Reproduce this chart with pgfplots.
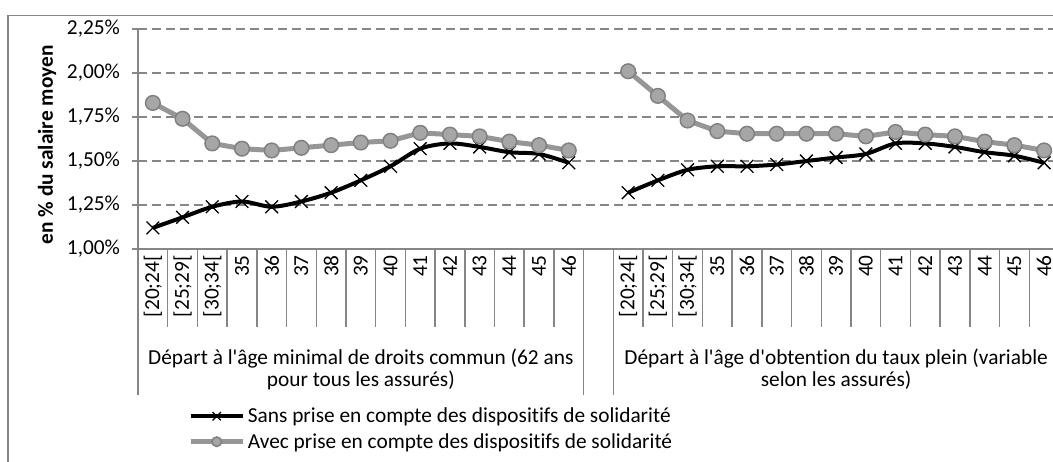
\documentclass[border=0pt]{standalone}
\usepackage{pgfplots}
\pgfplotsset{compat=1.18}
\usepackage{fontspec}
\setmainfont{Carlito}[Ligatures={TeXOff,CommonOff}]

\definecolor{axgray}{RGB}{134,134,134}
\definecolor{avecline}{RGB}{150,150,150}
\definecolor{avecfill}{RGB}{166,166,166}
\definecolor{avecedge}{RGB}{128,128,128}

\newcommand\lbl{\fontsize{16}{16.5}\selectfont}

\begin{document}
\begin{tikzpicture}
\useasboundingbox (0,0) rectangle (789.75pt,-345.75pt);
\draw[axgray, line width=1.1pt] (6pt,-350pt) -- (6pt,-11.6pt) -- (795pt,-11.6pt);
\begin{axis}[
    at={(103.5pt,-186.75pt)}, anchor=south west,
    scale only axis,
    width=686.25pt, height=165pt,
    xmin=-0.5, xmax=30.3,
    ymin=1, ymax=2.25,
    clip=false,
    axis lines*=left,
    axis line style={axgray, line width=1.1pt},
    tick align=outside,
    major tick length=4.5pt,
    ytick={1,1.25,1.5,1.75,2,2.25},
    yticklabels={{1,00\%},{1,25\%},{1,50\%},{1,75\%},{2,00\%},{2,25\%}},
    ytick style={axgray, line width=1.1pt},
    yticklabel style={font=\lbl, xshift=-5.5pt},
    ymajorgrids,
    grid style={axgray, line width=1.1pt, dash pattern=on 6.75pt off 3.75pt},
    xtick={0,1,2,3,4,5,6,7,8,9,10,11,12,13,14,16,17,18,19,20,21,22,23,24,25,26,27,28,29,30},
    xticklabels={{[20;24[},{[25;29[},{[30;34[},35,36,37,38,39,40,41,42,43,44,45,46,
                 {[20;24[},{[25;29[},{[30;34[},35,36,37,38,39,40,41,42,43,44,45,46},
    xtick style={draw=none},
    xticklabel style={rotate=90, anchor=east, inner sep=0pt, font=\lbl},
    ylabel={en \% du salaire moyen},
    ylabel style={at={(axis description cs:-0.0995,0.473)}, anchor=center, font=\lbl\bfseries},
    unbounded coords=jump,
    legend style={at={(axis description cs:0.0546,-0.818)}, anchor=west,
        draw=none, fill=none, inner sep=0pt, row sep=2.5pt,
        nodes={inner sep=2pt}, font=\lbl},
    legend cell align=left,
    legend image code/.code={\draw[mark repeat=2, mark phase=2, #1, every mark/.append style={scale=0.65}]
        plot coordinates {(0pt,0pt) (19.5pt,0pt) (39pt,0pt)};},
]
% Sans prise en compte des dispositifs de solidarite
\addplot[black, line width=3pt, smooth, tension=0.5, mark=x, mark size=6.75pt,
    mark options={solid, line width=1pt}] coordinates {
    (0,1.12) (1,1.18) (2,1.24) (3,1.27) (4,1.24) (5,1.27) (6,1.32) (7,1.39)
    (8,1.47) (9,1.57) (10,1.60) (11,1.58) (12,1.55) (13,1.54) (14,1.49)
    (15,nan)
    (16,1.32) (17,1.39) (18,1.45) (19,1.47) (20,1.47) (21,1.48) (22,1.50) (23,1.52)
    (24,1.54) (25,1.60) (26,1.60) (27,1.58) (28,1.55) (29,1.53) (30,1.49)
};
\addlegendentry{Sans prise en compte des dispositifs de solidarité}
% Avec prise en compte des dispositifs de solidarite
\addplot[avecline, line width=3.75pt, mark=*, mark size=5.5pt,
    mark options={solid, fill=avecfill, draw=avecedge, line width=1.1pt}] coordinates {
    (0,1.83) (1,1.74) (2,1.60) (3,1.57) (4,1.56) (5,1.575) (6,1.59) (7,1.605)
    (8,1.615) (9,1.66) (10,1.65) (11,1.64) (12,1.61) (13,1.59) (14,1.56)
    (15,nan)
    (16,2.01) (17,1.87) (18,1.73) (19,1.67) (20,1.655) (21,1.655) (22,1.655) (23,1.655)
    (24,1.64) (25,1.665) (26,1.65) (27,1.64) (28,1.61) (29,1.59) (30,1.56)
};
\addlegendentry{Avec prise en compte des dispositifs de solidarité}

% category separators
\pgfplotsinvokeforeach{0.5,1.5,2.5,3.5,4.5,5.5,6.5,7.5,8.5,9.5,10.5,11.5,12.5,13.5,
                       16.5,17.5,18.5,19.5,20.5,21.5,22.5,23.5,24.5,25.5,26.5,27.5,28.5,29.5}{
    \draw[axgray, line width=1.1pt] (axis cs:#1,1) -- ++(0pt,-58.5pt);
}
\pgfplotsinvokeforeach{-0.5,14.5,15.5}{
    \draw[axgray, line width=1.1pt] (axis cs:#1,1) -- ++(0pt,-109.5pt);
}
% group labels
\node[anchor=north, align=center, inner sep=0pt, yshift=-74.5pt, font=\lbl] at (axis cs:7,1)
    {Départ à l'âge minimal de droits commun (62 ans\\pour tous les assurés)};
\node[anchor=north, align=center, inner sep=0pt, yshift=-74.5pt, font=\lbl] at (axis cs:23,1)
    {Départ à l'âge d'obtention du taux plein (variable\\selon les assurés)};
\end{axis}
\end{tikzpicture}
\end{document}
